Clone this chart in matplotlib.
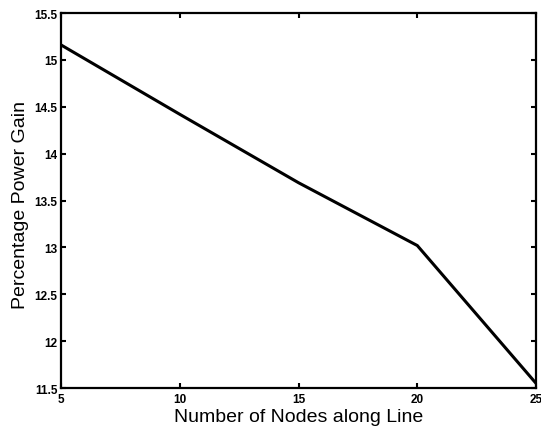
import matplotlib

matplotlib.use("Agg")
import matplotlib.pyplot as plt

plt.rcParams.update({
    "font.family": ["Liberation Sans", "DejaVu Sans"],
})

# data
nodes = [5, 10, 15, 20, 25]
gain = [15.16, 14.42, 13.69, 13.02, 11.55]
x_ticks = [5, 10, 15, 20, 25]
y_ticks = [11.5, 12, 12.5, 13, 13.5, 14, 14.5, 15, 15.5]

fig = plt.figure(figsize=(5.41, 4.31), dpi=100)
ax = fig.add_axes([0.1128, 0.0974, 0.878, 0.870])

ax.plot(nodes, gain, color="black", lw=2.2, solid_joinstyle="miter")

ax.set_xlim(5, 25)
ax.set_ylim(11.5, 15.5)
ax.set_xticks(x_ticks, [str(v) for v in x_ticks])
ax.set_yticks(y_ticks, [f"{v:g}" for v in y_ticks])
ax.tick_params(direction="in", length=3.5, width=1.5, top=True, right=True,
               labelsize=8.5)
ax.tick_params(axis="x", pad=3.5)
ax.tick_params(axis="y", pad=2.5)
for lab in ax.get_xticklabels() + ax.get_yticklabels():
    lab.set_fontweight("bold")
for sp in ax.spines.values():
    sp.set_linewidth(1.6)

ax.set_xlabel("Number of Nodes along Line", fontsize=14, va="center")
ax.set_ylabel("Percentage Power Gain", fontsize=14, va="center")
ax.xaxis.set_label_coords(0.5, -0.075)
ax.yaxis.set_label_coords(-0.085, 0.49)

fig.savefig("out.png", dpi=100)
